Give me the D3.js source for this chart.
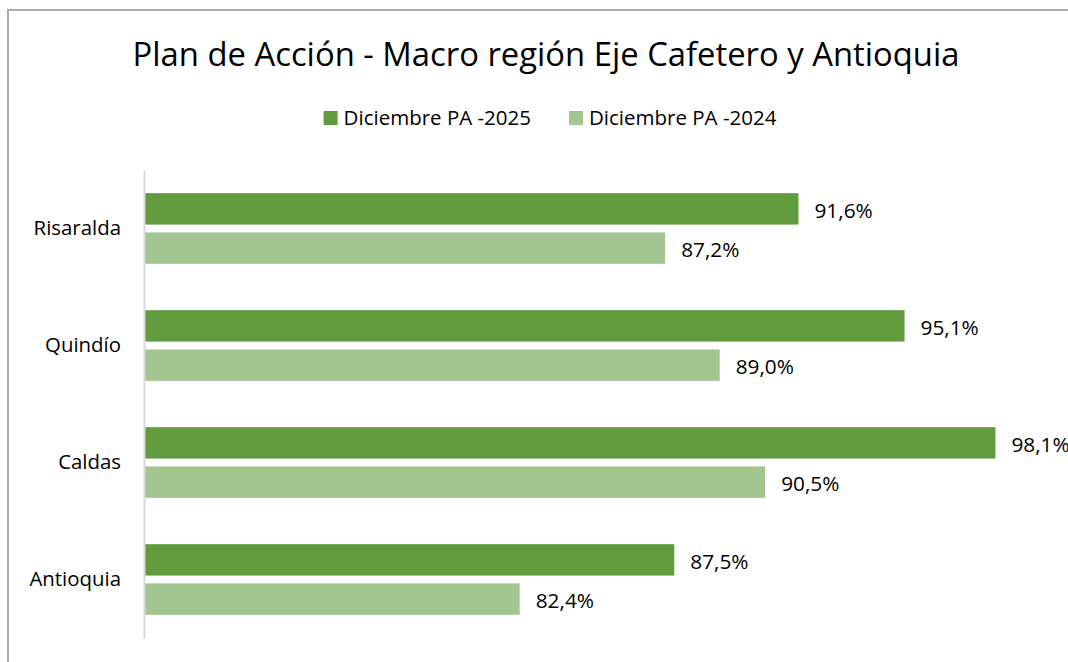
<!DOCTYPE html>
<html>
<head>
<meta charset="utf-8">
<script src="https://cdn.jsdelivr.net/npm/d3@7"></script>
<style>
  html, body { margin: 0; padding: 0; background: #fff; }
  svg text { font-family: "Open Sans", "Noto Sans", sans-serif; fill: #000; }
</style>
</head>
<body>
<div id="chart"></div>
<script>
// categories, top to bottom as shown
var categories = ["Risaralda", "Quindío", "Caldas", "Antioquia"];
var seriesNames = ["Diciembre PA -2025", "Diciembre PA -2024"];
var seriesColors = ["#629b3e", "#a3c58f"];
var values2025 = [0.916, 0.951, 0.981, 0.875];
var values2024 = [0.872, 0.890, 0.905, 0.824];
var axisDomain = [0.70, 1.00];

var W = 1068, H = 662;
var margin = { top: 170, right: 15, bottom: 24, left: 144 };

var locale = d3.formatLocale({ decimal: ",", thousands: ".", grouping: [3], currency: ["", ""] });
var fmt = locale.format(".1%");

var svg = d3.select("#chart").append("svg")
    .attr("width", W)
    .attr("height", H);

// chart border (right and bottom run off the picture)
svg.append("rect")
    .attr("x", 8).attr("y", 10)
    .attr("width", 1200).attr("height", 1000)
    .attr("fill", "none")
    .attr("stroke", "#ababab")
    .attr("stroke-width", 2);

// title
svg.append("text")
    .attr("x", 546).attr("y", 66)
    .attr("text-anchor", "middle")
    .style("font-size", "32.8px")
    .text("Plan de Acción - Macro región Eje Cafetero y Antioquia");

var x = d3.scaleLinear()
    .domain(axisDomain)
    .range([margin.left, W - margin.right]);

var y0 = d3.scaleBand()
    .domain(categories)
    .range([margin.top, H - margin.bottom]);

var y1 = d3.scaleBand()
    .domain(seriesNames)
    .range([0, y0.bandwidth()])
    .paddingInner(0.2)
    .paddingOuter(0.59);

var color = d3.scaleOrdinal().domain(seriesNames).range(seriesColors);

var rows = categories.map(function (c, i) {
    return { cat: c, vals: [
        { s: seriesNames[0], v: values2025[i] },
        { s: seriesNames[1], v: values2024[i] }
    ] };
});

var groups = svg.selectAll("g.cat")
    .data(rows)
    .enter().append("g")
    .attr("class", "cat")
    .attr("transform", function (d) { return "translate(0," + y0(d.cat) + ")"; });

groups.selectAll("rect")
    .data(function (d) { return d.vals; })
    .enter().append("rect")
    .attr("x", x(axisDomain[0]))
    .attr("y", function (d) { return y1(d.s); })
    .attr("width", function (d) { return x(d.v) - x(axisDomain[0]); })
    .attr("height", y1.bandwidth())
    .attr("fill", function (d) { return color(d.s); });

// data labels
groups.selectAll("text.val")
    .data(function (d) { return d.vals; })
    .enter().append("text")
    .attr("class", "val")
    .attr("x", function (d) { return x(d.v) + 16; })
    .attr("y", function (d) { return y1(d.s) + y1.bandwidth() / 2 + 2; })
    .attr("dy", "0.35em")
    .style("font-size", "20.8px")
    .text(function (d) { return fmt(d.v); });

// vertical category axis
var yAxis = svg.append("g")
    .attr("transform", "translate(" + x(axisDomain[0]) + ",0)")
    .call(d3.axisLeft(y0).tickSize(0).tickPadding(23));
yAxis.select(".domain").attr("stroke", "#d9d9d9").attr("stroke-width", 2);
yAxis.selectAll("text")
    .style("font-size", "20.4px")
    .style("font-family", "'Open Sans', 'Noto Sans', sans-serif")
    .attr("fill", "#000");

// legend
var legend = svg.append("g");
var lx = 0;
seriesNames.forEach(function (s) {
    var g = legend.append("g");
    g.append("rect").attr("width", 14).attr("height", 14).attr("y", -7).attr("fill", color(s));
    var t = g.append("text").attr("x", 20).attr("dy", "0.35em").style("font-size", "20.5px").text(s);
    var w = 20 + t.node().getComputedTextLength();
    g.attr("transform", "translate(" + lx + ",0)");
    lx += w + 38;
});
var legendW = lx - 38;
legend.attr("transform", "translate(" + (550 - legendW / 2) + ",118)");
</script>
</body>
</html>
